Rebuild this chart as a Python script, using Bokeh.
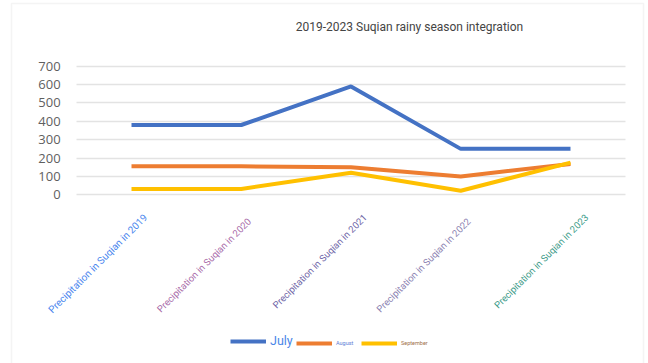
import math

from bokeh.core.properties import value
from bokeh.embed import file_html
from bokeh.models import (BoxAnnotation, ColumnDataSource, FixedTicker, Label,
                          Legend, LegendItem, Range1d)
from bokeh.plotting import figure
from bokeh.resources import INLINE

# --- data -----------------------------------------------------------------
years = ["2019", "2020", "2021", "2022", "2023"]
category_labels = [f"Precipitation in Suqian in {y}" for y in years]
july = [380, 380, 590, 250, 250]
august = [155, 155, 150, 100, 168]
september = [32, 32, 120, 22, 175]
y_ticks = [0, 100, 200, 300, 400, 500, 600, 700]
title_text = "2019-2023 Suqian rainy season integration"

# --- styling ----------------------------------------------------------------
BLUE = "#4472c4"
ORANGE = "#ed7d31"
YELLOW = "#ffc000"
label_colors = ["#4a86ee", "#a86aa8", "#6d63a6", "#8a80b0", "#3a9a88"]
label_sizes = ["10px", "9.5px", "9.5px", "9.5px", "9.5px"]
label_dx = [14, 8, 14, 8, 16]
label_dy = [21, 25, 21, 25, 21]

W, H = 648, 363
# pixel geometry of the plotting area (the frame spans the whole canvas)
x0_px, step_px = 131.0, 109.75      # first category centre, category spacing
zero_px, unit_px = 194.3, 128.6 / 700.0

x_idx = list(range(len(years)))
x_range = Range1d(-x0_px / step_px, (W - x0_px) / step_px)
y_range = Range1d(-(H - zero_px) / unit_px, zero_px / unit_px)

p = figure(
    width=W, height=H,
    x_range=x_range, y_range=y_range,
    output_backend="svg",
    toolbar_location=None,
    min_border=0,
)
p.outline_line_color = None
p.background_fill_color = "white"
p.border_fill_color = "white"

p.xaxis.visible = False
p.xgrid.grid_line_color = None

# value axis sits at the left edge of the category band
p.yaxis.fixed_location = -0.5
p.yaxis.ticker = FixedTicker(ticks=y_ticks)
p.yaxis.axis_line_color = None
p.yaxis.major_tick_line_color = None
p.yaxis.minor_tick_line_color = None
p.yaxis.major_label_text_font = "Open Sans"
p.yaxis.major_label_text_font_size = "13px"
p.yaxis.major_label_text_color = "#5f5f5f"
p.yaxis.major_label_standoff = 10
p.ygrid.ticker = FixedTicker(ticks=y_ticks)
p.ygrid.cross_bounds = (-0.5, len(years) - 0.5)
p.ygrid.grid_line_color = "#e3e3e3"
p.ygrid.grid_line_width = 1.5

src = ColumnDataSource(dict(x=x_idx, july=july, august=august, september=september))
r_jul = p.line("x", "july", source=src, line_color=BLUE, line_width=4)
r_aug = p.line("x", "august", source=src, line_color=ORANGE, line_width=4)
r_sep = p.line("x", "september", source=src, line_color=YELLOW, line_width=4)

# rotated category labels under the plot
lab_src = ColumnDataSource(dict(
    x=x_idx, y=[0] * len(years), text=category_labels,
    color=label_colors, size=label_sizes, dx=label_dx, dy=label_dy,
))
p.text("x", "y", text="text", source=lab_src, angle=math.pi / 4,
       text_align="right", text_baseline="middle",
       text_color="color", text_font_size="size",
       text_font=value("Roboto"), x_offset="dx", y_offset="dy")

# legends: one per series, each with its own label style
def add_legend(renderer, name, color, size, x):
    lg = Legend(items=[LegendItem(label=name, renderers=[renderer])],
                location=(x, 15), orientation="horizontal",
                glyph_width=36, glyph_height=10, label_standoff=4,
                padding=0, margin=0, spacing=0,
                border_line_color=None, background_fill_alpha=0,
                label_text_font="Roboto", label_text_font_size=size,
                label_text_color=color, label_height=10)
    p.add_layout(lg, "center")

add_legend(r_jul, "July", "#4a86e8", "12.5px", 230)
add_legend(r_aug, "August", "#5b7bd5", "5.5px", 296)
add_legend(r_sep, "September", "#a0704a", "5.5px", 361)

p.add_layout(Label(x=409, y=26, x_units="canvas", y_units="canvas",
                   text=title_text, text_align="center", text_baseline="middle",
                   text_font="Roboto", text_font_size="12px",
                   text_color="#444444"))

p.add_layout(BoxAnnotation(left=11, right=643, top=3, bottom=H + 10,
                           left_units="canvas", right_units="canvas",
                           top_units="canvas", bottom_units="canvas",
                           fill_alpha=0, line_color="#d9d9d9", line_width=1.5))

open("out.html", "w").write(file_html(p, INLINE))
